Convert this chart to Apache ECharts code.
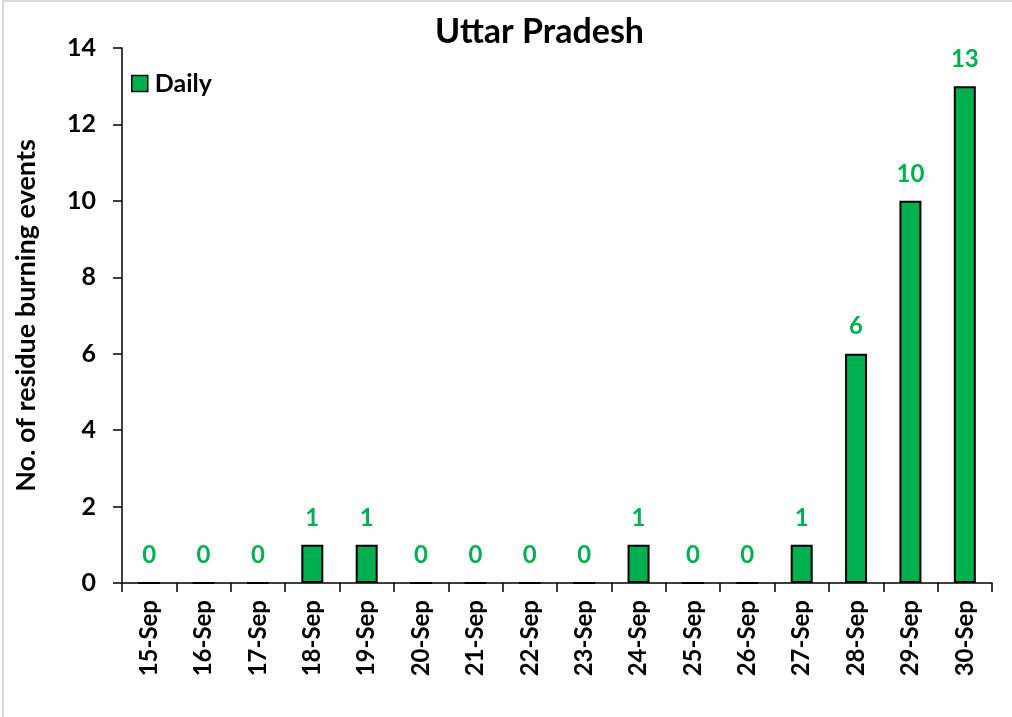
<!DOCTYPE html>
<html>
<head>
<meta charset="utf-8">
<script src="https://cdn.jsdelivr.net/npm/echarts@6/dist/echarts.min.js"></script>
<style>
  html, body { margin: 0; padding: 0; background: #fff; }
  #chartDiv { width: 1012px; height: 717px; }
</style>
</head>
<body>
<div id="chartDiv"></div>
<script>
// 数据
var days = ['15-Sep', '16-Sep', '17-Sep', '18-Sep', '19-Sep', '20-Sep', '21-Sep', '22-Sep',
            '23-Sep', '24-Sep', '25-Sep', '26-Sep', '27-Sep', '28-Sep', '29-Sep', '30-Sep'];
var daily = [0, 0, 0, 1, 1, 0, 0, 0, 0, 1, 0, 0, 1, 6, 10, 13];

var font = 'Lato, "Open Sans", sans-serif';
var myChart = echarts.init(document.getElementById('chartDiv'));
var option = {
    backgroundColor: '#fff',
    textStyle: { fontFamily: font },
    title: {
        text: 'Uttar Pradesh',
        left: 430,
        top: 10,
        textStyle: { fontFamily: font, fontSize: 34, fontWeight: 'bold', color: '#000' }
    },
    graphic: [{
        type: 'rect',
        shape: { x: 3, y: 1, width: 1020, height: 730 },
        style: { fill: 'none', stroke: '#d9d9d9', lineWidth: 2 },
        silent: true
    }],
    legend: {
        data: ['Daily'],
        icon: 'rect',
        left: 126,
        top: 66,
        itemWidth: 16,
        itemHeight: 16,
        itemGap: 6,
        itemStyle: { borderColor: '#000', borderWidth: 1.5 },
        textStyle: { fontFamily: font, fontSize: 25, fontWeight: 'bold', color: '#000', padding: [0, 0, 0, 2] }
    },
    grid: { left: 122, right: 20, top: 48, bottom: 134 },
    xAxis: {
        type: 'category',
        data: days,
        axisLine: { lineStyle: { color: '#000', width: 1.5 } },
        axisTick: { show: true, length: 9, lineStyle: { color: '#000', width: 1.5 } },
        axisLabel: {
            rotate: 90,
            margin: 17,
            color: '#000',
            fontFamily: font,
            fontSize: 24,
            fontWeight: 'bold'
        }
    },
    yAxis: {
        type: 'value',
        min: 0,
        max: 14,
        interval: 2,
        name: 'No. of residue burning events',
        nameLocation: 'middle',
        nameGap: 82,
        nameTextStyle: { fontFamily: font, fontSize: 27, fontWeight: 'bold', color: '#000' },
        axisLine: { show: true, lineStyle: { color: '#000', width: 1.5 } },
        axisTick: { show: true, length: 9, lineStyle: { color: '#000', width: 1.5 } },
        splitLine: { show: false },
        axisLabel: {
            margin: 26,
            color: '#000',
            fontFamily: font,
            fontSize: 25,
            fontWeight: 'bold'
        }
    },
    series: [{
        name: 'Daily',
        type: 'bar',
        data: daily,
        barWidth: 22,
        itemStyle: { color: '#00B050', borderColor: '#000', borderWidth: 2 },
        label: {
            show: true,
            position: 'top',
            distance: 15,
            color: '#00B050',
            fontFamily: font,
            fontSize: 24,
            fontWeight: 'bold'
        }
    }]
};

myChart.setOption(option);
</script>
</body>
</html>
